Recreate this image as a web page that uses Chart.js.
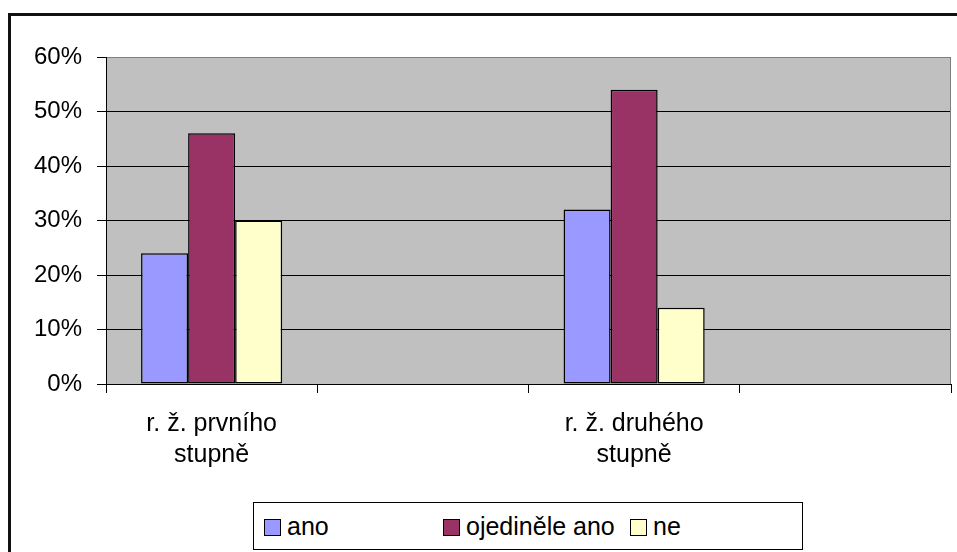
<!DOCTYPE html>
<html>
<head>
<meta charset="utf-8">
<script src="https://cdn.jsdelivr.net/npm/chart.js@4.4.0/dist/chart.umd.min.js"></script>
<style>
  body { margin: 0; background: #fff; }
  #wrap { position: relative; width: 957px; height: 552px; overflow: hidden; }
  #frame { position: absolute; left: 8px; top: 13px; width: 1000px; height: 600px; border: 3px solid #111; box-sizing: border-box; }
  #chart { position: absolute; left: 0; top: 0; }
  #legend { position: absolute; left: 253px; top: 502px; width: 550px; height: 48px; border: 1px solid #000; box-sizing: border-box; background: #fff;
            font-family: "Liberation Sans", Arial, sans-serif; font-size: 25px; color: #000; }
  .item { position: absolute; top: 0; height: 46px; display: flex; align-items: center; }
  .sw { width: 15px; height: 15px; border: 1px solid #000; margin-right: 6px; margin-top: 3px; }
</style>
</head>
<body>
<div id="wrap">
  <div id="frame"></div>
  <canvas id="chart" width="957" height="552"></canvas>
  <div id="legend"></div>
</div>
<script>
const categories = [['r. ž. prvního', 'stupně'], '', ['r. ž. druhého', 'stupně'], ''];
const seriesNames = ['ano', 'ojediněle ano', 'ne'];
const anoValues = [24, null, 32, null];
const ojedineleValues = [46, null, 54, null];
const neValues = [30, null, 14, null];
const yTicks = [0, 10, 20, 30, 40, 50, 60];

const colors = ['#9999FF', '#993366', '#FFFFCC'];
const fontFamily = '"Liberation Sans", Arial, sans-serif';

const plotBackground = {
    id: 'plotBackground',
    beforeDraw(chart) {
        const a = chart.chartArea;
        const ctx = chart.ctx;
        ctx.save();
        ctx.fillStyle = '#C0C0C0';
        ctx.fillRect(a.left, a.top, a.right - a.left, a.bottom - a.top);
        ctx.restore();
    },
    afterDraw(chart) {
        const a = chart.chartArea;
        const ctx = chart.ctx;
        ctx.save();
        ctx.strokeStyle = '#808080';
        ctx.lineWidth = 1;
        ctx.beginPath();
        ctx.moveTo(a.right - 0.5, a.top);
        ctx.lineTo(a.right - 0.5, a.bottom);
        ctx.stroke();
        ctx.restore();
    }
};

const ctx = document.getElementById('chart').getContext('2d');
const barChart = new Chart(ctx, {
    type: 'bar',
    data: {
        labels: categories,
        datasets: [
            { label: seriesNames[0], data: anoValues, backgroundColor: colors[0] },
            { label: seriesNames[1], data: ojedineleValues, backgroundColor: colors[1] },
            { label: seriesNames[2], data: neValues, backgroundColor: colors[2] }
        ]
    },
    options: {
        responsive: false,
        animation: false,
        layout: { padding: { top: 57, right: 6, left: 0, bottom: 0 } },
        datasets: {
            bar: { categoryPercentage: 0.668, barPercentage: 1.0, borderColor: '#000', borderWidth: 1.5, borderSkipped: false }
        },
        plugins: {
            legend: { display: false },
            tooltip: { enabled: false }
        },
        scales: {
            x: {
                grid: { drawOnChartArea: false, drawTicks: true, tickLength: 9, color: '#000', offset: true },
                border: { color: '#000', width: 1 },
                ticks: { font: { family: fontFamily, size: 25, lineHeight: 1.25 }, color: '#000', padding: 15, maxRotation: 0, autoSkip: false },
                afterFit(scale) { scale.height = 552 - 384; }
            },
            y: {
                min: 0,
                max: 60,
                afterBuildTicks(scale) { scale.ticks = yTicks.map(v => ({ value: v })); },
                grid: {
                    color: c => (c.tick && c.tick.value === 60 ? '#808080' : '#000'),
                    tickColor: '#000',
                    tickLength: 9
                },
                border: { color: '#000', width: 1 },
                ticks: { font: { family: fontFamily, size: 24 }, color: '#000', padding: 15, callback: v => v + '%' },
                afterFit(scale) { scale.width = 106; }
            }
        }
    },
    plugins: [plotBackground]
});

// legend in Excel style, columns of fixed width
const legendLefts = [10, 189, 376];
const legend = document.getElementById('legend');
barChart.data.datasets.forEach((ds, i) => {
    const item = document.createElement('div');
    item.className = 'item';
    item.style.left = legendLefts[i] + 'px';
    item.innerHTML = '<span class="sw" style="background:' + ds.backgroundColor + '"></span><span>' + ds.label + '</span>';
    legend.appendChild(item);
});
</script>
</body>
</html>
